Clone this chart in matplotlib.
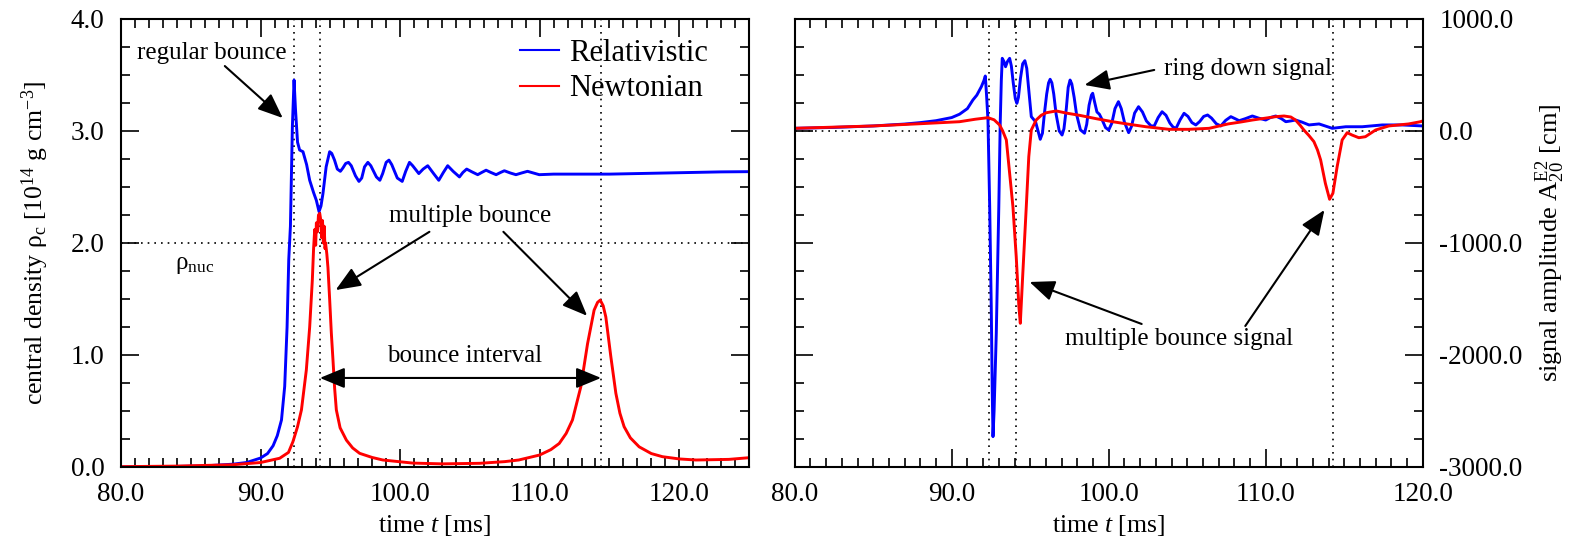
import matplotlib
matplotlib.use("Agg")
import matplotlib.pyplot as plt
from matplotlib.ticker import MultipleLocator, FormatStrFormatter

plt.rcParams['font.family'] = ['Liberation Serif', 'DejaVu Serif']
plt.rcParams['mathtext.fontset'] = 'custom'
plt.rcParams['mathtext.rm'] = 'Liberation Serif'
plt.rcParams['mathtext.it'] = 'Liberation Serif:italic'
plt.rcParams['mathtext.bf'] = 'Liberation Serif:bold'

# ---------------- data: left panel (central density, 1e14 g/cm^3) ----------------
rel_rho_t = [80, 84, 86, 88, 89, 89.5, 90, 90.5, 90.9, 91.2, 91.5, 91.73, 91.9, 92.02, 92.14,
             92.28, 92.4, 92.5, 92.65, 92.8, 93.04, 93.3, 93.52, 93.8, 94.0, 94.19, 94.33, 94.47,
             94.7, 94.95, 95.1, 95.3, 95.5, 95.72, 95.9, 96.1, 96.3, 96.5, 96.8, 97.05, 97.25,
             97.45, 97.69, 97.9, 98.3, 98.55, 98.75, 99.0, 99.2, 99.4, 99.8, 100.15, 100.4,
             100.67, 100.9, 101.34, 101.65, 101.98, 102.4, 102.77, 103.1, 103.41, 103.8,
             104.25, 104.5, 104.77, 105.15, 105.56, 105.85, 106.16, 106.5, 106.88, 107.2,
             107.47, 107.9, 108.3, 108.7, 109.13, 109.55, 109.97, 111, 113, 115, 117, 119,
             121, 123, 125]
rel_rho_v = [0.0, 0.005, 0.01, 0.025, 0.04, 0.06, 0.08, 0.12, 0.19, 0.28, 0.42, 0.72, 1.25, 1.85,
             2.15, 3.04, 3.455, 3.2, 2.9, 2.83, 2.815, 2.7, 2.56, 2.45, 2.38, 2.28, 2.33, 2.44,
             2.68, 2.815, 2.8, 2.74, 2.66, 2.64, 2.67, 2.71, 2.72, 2.69, 2.6, 2.55, 2.58,
             2.68, 2.72, 2.69, 2.59, 2.56, 2.62, 2.72, 2.74, 2.7, 2.58, 2.55, 2.64,
             2.72, 2.69, 2.62, 2.66, 2.69, 2.62, 2.56, 2.63, 2.69, 2.64,
             2.59, 2.63, 2.66, 2.635, 2.61, 2.63, 2.65, 2.63, 2.61, 2.63,
             2.645, 2.625, 2.61, 2.625, 2.64, 2.625, 2.61, 2.615, 2.615, 2.615, 2.62, 2.625,
             2.63, 2.635, 2.637]

newt_rho_t = [80, 84, 88, 90, 91.37, 92.0, 92.32, 92.65, 92.93, 93.28, 93.52, 93.71, 93.8,
              93.88, 93.95, 94.0, 94.08, 94.15, 94.24, 94.32, 94.38, 94.44, 94.5, 94.56,
              94.62, 94.66, 94.75, 94.83, 94.95, 95.07, 95.19, 95.31, 95.43, 95.7, 96.15,
              96.6, 97.1, 98.0, 98.76, 100.9, 103.0, 105.7, 107.5, 108.5, 110.0, 110.8, 111.4,
              111.9, 112.35, 112.95, 113.43, 113.9, 114.15, 114.34, 114.55, 114.74, 115.1,
              115.46, 115.75, 116.05, 116.5, 117.13, 118.0, 118.8, 120.0, 121.2, 123.56, 125]
newt_rho_v = [0.003, 0.008, 0.02, 0.04, 0.078, 0.13, 0.226, 0.36, 0.51, 0.866, 1.25, 1.67, 1.95,
              2.12, 1.98, 2.18, 2.1, 2.25, 2.265, 2.2, 2.05, 2.2, 2.0, 2.15, 1.95, 2.0, 1.9,
              1.78, 1.5, 1.2, 0.955, 0.7, 0.51, 0.35, 0.24,
              0.17, 0.122, 0.085, 0.0625, 0.035, 0.028, 0.033, 0.048, 0.0625, 0.107, 0.155,
              0.21, 0.3, 0.42, 0.717, 1.1, 1.4, 1.47, 1.49, 1.44, 1.34, 0.985,
              0.658, 0.48, 0.36, 0.26, 0.18, 0.12, 0.092, 0.072, 0.0625, 0.068, 0.083]

# ---------------- data: right panel (signal amplitude A20E2, cm) ----------------
rel_sig_t = [80, 82.5, 85, 87, 88, 89, 90, 90.5, 91, 91.35, 91.6, 91.89, 92.05, 92.14, 92.22,
             92.31, 92.42, 92.52, 92.58, 92.63, 92.7, 92.84, 93.0, 93.09, 93.16, 93.22,
             93.33, 93.43, 93.55, 93.69, 93.8, 93.92, 94.05, 94.15, 94.25, 94.38, 94.52,
             94.66, 94.78, 94.92, 95.07, 95.34, 95.5, 95.64, 95.78, 95.9, 96.05, 96.17,
             96.27, 96.38, 96.5, 96.65, 96.85, 97.03, 97.15, 97.3, 97.42, 97.54, 97.65,
             97.8, 97.95, 98.2, 98.46, 98.6, 98.75, 98.9, 98.98, 99.1, 99.25, 99.41, 99.55,
             99.8, 100.0, 100.2, 100.4, 100.62, 100.8, 101.0, 101.27, 101.45, 101.65, 101.9,
             102.15, 102.4, 102.7, 102.9, 103.15, 103.4, 103.65, 103.9, 104.1, 104.29,
             104.55, 104.8, 105.05, 105.3, 105.55, 105.8, 106.05, 106.3, 106.55, 106.85,
             107.14, 107.45, 107.78, 108.05, 108.31, 108.7, 109.15, 109.55, 110.0, 110.3,
             110.64, 111.0, 111.28, 111.6, 111.9, 112.3, 112.76, 113.4, 114.24, 115.1,
             116.15, 117.42, 118.7, 120]
rel_sig_v = [24, 32, 45, 62, 75, 92, 120, 150, 200, 277, 320, 396, 450, 491, 320,
             98, -676, -1569, -2300, -2729, -2500, -1807, -676, 69, 450, 649,
             620, 574, 620, 649, 580, 430, 290, 247, 300, 470, 600,
             628, 560, 350, 128, 83, 0, -74, -20, 150, 330, 430,
             462, 430, 330, 150, 0, -36, 20, 200, 390, 455, 420,
             300, 150, 10, -20, 60, 230, 320, 337, 260, 170, 149, 110,
             30, 9, 70, 200, 262, 200, 80, -15, 40, 160, 217,
             170, 90, 45, 45, 120, 172, 140, 70, 35, 24,
             100, 158, 130, 75, 54, 85, 130, 143, 115, 65,
             45, 95, 128, 110, 92, 110, 134, 115, 98, 120,
             134, 110, 83, 90, 98, 80, 54, 63, 24, 38,
             38, 54, 54, 45]

newt_sig_t = [80, 85, 88, 90.5, 91.5, 92.31, 92.7, 93.05, 93.25, 93.48, 93.69, 93.9, 94.11,
              94.28, 94.37, 94.53, 94.75, 94.91, 95.07, 95.38, 95.7, 96.02, 96.66, 97.3,
              98.14, 99.2, 100.25, 101.3, 102.37, 103.85, 105.1, 106.4, 107.6, 108.4,
              109.15, 110.0, 110.64, 111.17, 111.6, 111.9, 112.2, 112.43, 112.75, 113.07,
              113.3, 113.5, 113.8, 114.07, 114.28, 114.55, 114.87, 115.19, 115.5, 115.93,
              116.35, 117.0, 117.84, 119.1, 119.86, 120]
newt_sig_v = [24, 45, 65, 83, 105, 119, 100, 54, 0, -80, -378, -676, -1122,
              -1569, -1717, -1271, -676, -229, 9, 98, 140, 163, 179, 160,
              140, 110, 83, 60, 38, 15, 15, 24, 63, 80,
              98, 115, 128, 134, 125, 98, 50, 9, -40, -95,
              -170, -259, -467, -610, -556, -319, -80, -15, -36, -60,
              -51, 9, 45, 63, 83, 90]

# reference markers
left_bounce_times = [92.4, 94.25, 114.4]
right_bounce_times = [92.35, 94.1, 114.3]
rho_nuc = 2.0

BLUE = '#0000ff'
RED = '#ff0000'
LW = 2.1
TICK_FS = 19.5
LABEL_FS = 18.5
ANN_FS = 18

fig = plt.figure(figsize=(15.72, 5.43), dpi=100)
axL = fig.add_axes([121/1572, 76/543, 628/1572, 448/543])
axR = fig.add_axes([794.7/1572, 76/543, 628/1572, 448/543])

def style(ax):
    for s in ax.spines.values():
        s.set_linewidth(1.5)
    ax.tick_params(which='both', direction='in', top=True, bottom=True, left=True, right=True,
                   width=1.2, labelsize=TICK_FS)
    ax.tick_params(axis='x', which='both', pad=11)
    ax.tick_params(axis='y', which='both', pad=12)
    ax.tick_params(which='major', length=13)
    ax.tick_params(which='minor', length=6.5)
    ax.xaxis.set_major_locator(MultipleLocator(10))
    ax.xaxis.set_minor_locator(MultipleLocator(1))
    ax.xaxis.set_major_formatter(FormatStrFormatter('%.1f'))
    ax.yaxis.set_major_formatter(FormatStrFormatter('%.1f'))

dot = dict(color='k', lw=1.2, linestyle=(0, (1, 3)))
arr = dict(arrowstyle='-|>,head_length=0.85,head_width=0.35', color='k', lw=1.5,
           mutation_scale=18, shrinkA=0, shrinkB=0)
arr2 = dict(arrowstyle='<|-|>,head_length=0.85,head_width=0.35', color='k', lw=1.5,
            mutation_scale=18, shrinkA=0, shrinkB=0)

# ---------- left panel ----------
style(axL)
axL.set_xlim(80, 125)
axL.set_ylim(0, 4)
axL.yaxis.set_major_locator(MultipleLocator(1))
axL.yaxis.set_minor_locator(MultipleLocator(0.25))
for t in left_bounce_times:
    axL.axvline(t, **dot)
axL.axhline(rho_nuc, **dot)
axL.plot(rel_rho_t, rel_rho_v, color=BLUE, lw=LW, label='Relativistic')
axL.plot(newt_rho_t, newt_rho_v, color=RED, lw=LW, label='Newtonian')
axL.set_xlabel('time $t$ [ms]', fontsize=LABEL_FS, labelpad=4)
axL.set_ylabel('central density ρ$_{\\rm c}$ [10$^{14}$ g cm$^{-3}$]', fontsize=LABEL_FS,
               labelpad=14)
leg = axL.legend(loc='upper right', bbox_to_anchor=(0.935, 0.955), frameon=False, fontsize=22,
                 handlelength=1.25, handletextpad=0.35, labelspacing=0.2, borderpad=0,
                 borderaxespad=0)
for h in leg.get_lines():
    h.set_linewidth(1.5)

axL.text(86.5, 3.7, 'regular bounce', fontsize=ANN_FS, ha='center', va='center')
axL.annotate('', xy=(91.59, 3.116), xytext=(87.44, 3.58), arrowprops=arr)
axL.text(85.3, 1.8, 'ρ$_{\\rm nuc}$', fontsize=ANN_FS, ha='center', va='center')
axL.text(105.0, 2.24, 'multiple bounce', fontsize=ANN_FS, ha='center', va='center')
axL.annotate('', xy=(95.38, 1.58), xytext=(102.1, 2.1), arrowprops=arr)
axL.annotate('', xy=(113.4, 1.35), xytext=(107.4, 2.1), arrowprops=arr)
axL.text(104.6, 0.99, 'bounce interval', fontsize=ANN_FS, ha='center', va='center')
axL.annotate('', xy=(114.4, 0.795), xytext=(94.25, 0.795), arrowprops=arr2)

# ---------- right panel ----------
style(axR)
axR.set_xlim(80, 120)
axR.set_ylim(-3000, 1000)
axR.yaxis.set_major_locator(MultipleLocator(1000))
axR.yaxis.set_minor_locator(MultipleLocator(250))
axR.tick_params(labelleft=False, labelright=True)
axR.yaxis.set_label_position('right')
for t in right_bounce_times:
    axR.axvline(t, **dot)
axR.axhline(0, **dot)
axR.plot(rel_sig_t, rel_sig_v, color=BLUE, lw=LW)
axR.plot(newt_sig_t, newt_sig_v, color=RED, lw=LW)
axR.set_xlabel('time $t$ [ms]', fontsize=LABEL_FS, labelpad=4)
axR.set_ylabel('signal amplitude A$_{20}^{\\rm E2}$ [cm]', fontsize=19, labelpad=8)

axR.text(108.9, 555, 'ring down signal', fontsize=ANN_FS, ha='center', va='center')
axR.annotate('', xy=(98.46, 411), xytext=(102.9, 545), arrowprops=arr)
axR.text(104.5, -1855, 'multiple bounce signal', fontsize=ANN_FS, ha='center', va='center')
axR.annotate('', xy=(94.96, -1348), xytext=(102.1, -1723), arrowprops=arr)
axR.annotate('', xy=(113.74, -705), xytext=(108.7, -1741), arrowprops=arr)

fig.savefig('out.png', dpi=100)
